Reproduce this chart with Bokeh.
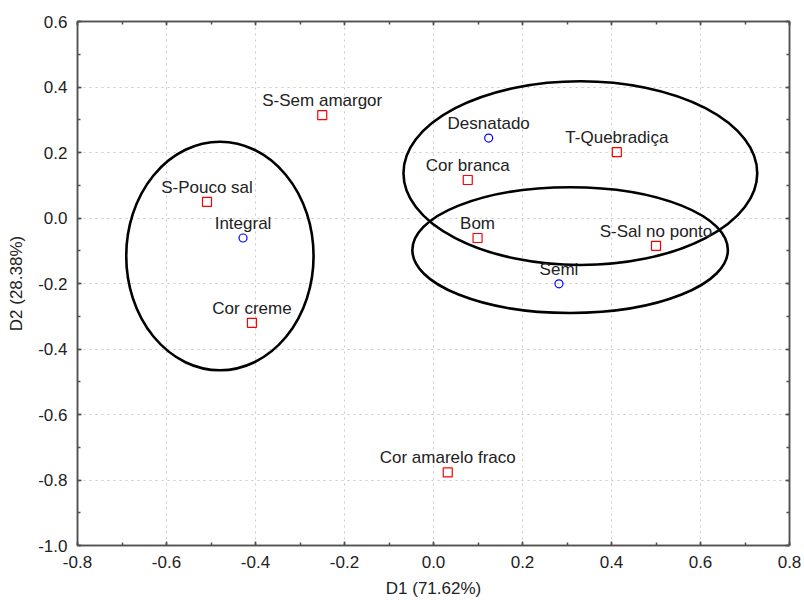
from bokeh.plotting import figure
from bokeh.models import LinearAxis, Range1d, ColumnDataSource, FixedTicker, CustomJSTickFormatter
from bokeh.embed import file_html
from bokeh.resources import INLINE
from bokeh.core.properties import value

# attribute points (red squares)
attr_names = ["S-Sem amargor", "T-Quebradiça", "Cor branca", "S-Pouco sal", "Bom",
              "S-Sal no ponto", "Cor creme", "Cor amarelo fraco"]
attr_x = [-0.250, 0.412, 0.077, -0.509, 0.099, 0.500, -0.408, 0.032]
attr_y = [0.314, 0.201, 0.116, 0.049, -0.061, -0.085, -0.320, -0.777]

# sample points (blue circles)
samp_names = ["Desnatado", "Integral", "Semi"]
samp_x = [0.124, -0.428, 0.282]
samp_y = [0.244, -0.061, -0.201]

# group ellipses
ell_x = [-0.480, 0.330, 0.307]
ell_y = [-0.116, 0.137, -0.098]
ell_w = [0.421, 0.795, 0.709]
ell_h = [0.698, 0.561, 0.384]

xticks = [-0.8, -0.6, -0.4, -0.2, 0.0, 0.2, 0.4, 0.6, 0.8]
yticks = [-1.0, -0.8, -0.6, -0.4, -0.2, 0.0, 0.2, 0.4, 0.6]
xminor = [round(-0.8 + 0.1 * i, 2) for i in range(17)]
yminor = [round(-1.0 + 0.1 * i, 2) for i in range(17)]

FONT = "Liberation Sans"
FS = "17px"
AXC = "#505050"

p = figure(width=804, height=603, output_backend="svg", toolbar_location=None,
           x_range=Range1d(-0.8, 0.8), y_range=Range1d(-1.0, 0.6),
           min_border_left=77, min_border_right=15, min_border_top=21, min_border_bottom=58,
           x_axis_label="D1 (71.62%)", y_axis_label="D2 (28.38%)")
p.outline_line_color = AXC
p.outline_line_width = 1.5


def style_ticks(ax):
    ax.axis_line_color = AXC
    ax.axis_line_width = 1.5
    ax.major_tick_in = 4
    ax.major_tick_out = 0
    ax.minor_tick_in = 3
    ax.minor_tick_out = 0
    ax.major_tick_line_color = AXC
    ax.minor_tick_line_color = AXC
    ax.major_tick_line_width = 1.5
    ax.minor_tick_line_width = 1.5


for ax in (p.xaxis[0], p.yaxis[0]):
    style_ticks(ax)
    ax.major_label_text_font = FONT
    ax.major_label_text_font_size = FS
    ax.major_label_text_color = "#222222"
    ax.major_label_standoff = 10
    ax.axis_label_text_font = FONT
    ax.axis_label_text_font_size = FS
    ax.axis_label_text_font_style = "normal"
    ax.axis_label_text_color = "#222222"
    ax.formatter = CustomJSTickFormatter(code="return tick.toFixed(1);")

p.xaxis[0].axis_label_standoff = 8
p.yaxis[0].axis_label_standoff = 9
p.xaxis[0].ticker = FixedTicker(ticks=xticks, minor_ticks=xminor)
p.yaxis[0].ticker = FixedTicker(ticks=yticks, minor_ticks=yminor)

for loc, ticks, minor in (("above", xticks, xminor), ("right", yticks, yminor)):
    ax = LinearAxis()
    ax.ticker = FixedTicker(ticks=ticks, minor_ticks=minor)
    style_ticks(ax)
    ax.major_label_text_alpha = 0
    ax.major_label_text_font_size = "1px"
    ax.major_label_standoff = 0
    p.add_layout(ax, loc)

p.xgrid.ticker = FixedTicker(ticks=xticks)
p.ygrid.ticker = FixedTicker(ticks=yticks)
p.grid.grid_line_color = "#c8c8c8"
p.grid.grid_line_dash = "dotted"
p.grid.grid_line_width = 1

p.ellipse(x=ell_x, y=ell_y, width=ell_w, height=ell_h, fill_color=None,
          line_color="black", line_width=2.6)

asrc = ColumnDataSource(dict(x=attr_x, y=attr_y, t=attr_names))
ssrc = ColumnDataSource(dict(x=samp_x, y=samp_y, t=samp_names))

p.scatter("x", "y", source=asrc, marker="square", size=9, fill_color=None,
          line_color="red", line_width=1.2)
p.scatter("x", "y", source=ssrc, marker="circle", size=8, fill_color=None,
          line_color="blue", line_width=1.2)

for src in (asrc, ssrc):
    p.text("x", "y", text="t", source=src, text_align="center", text_baseline="bottom",
           y_offset=-5, text_font=value(FONT), text_font_size=FS, text_color="#222222")

open("out.html", "w").write(file_html(p, INLINE))
